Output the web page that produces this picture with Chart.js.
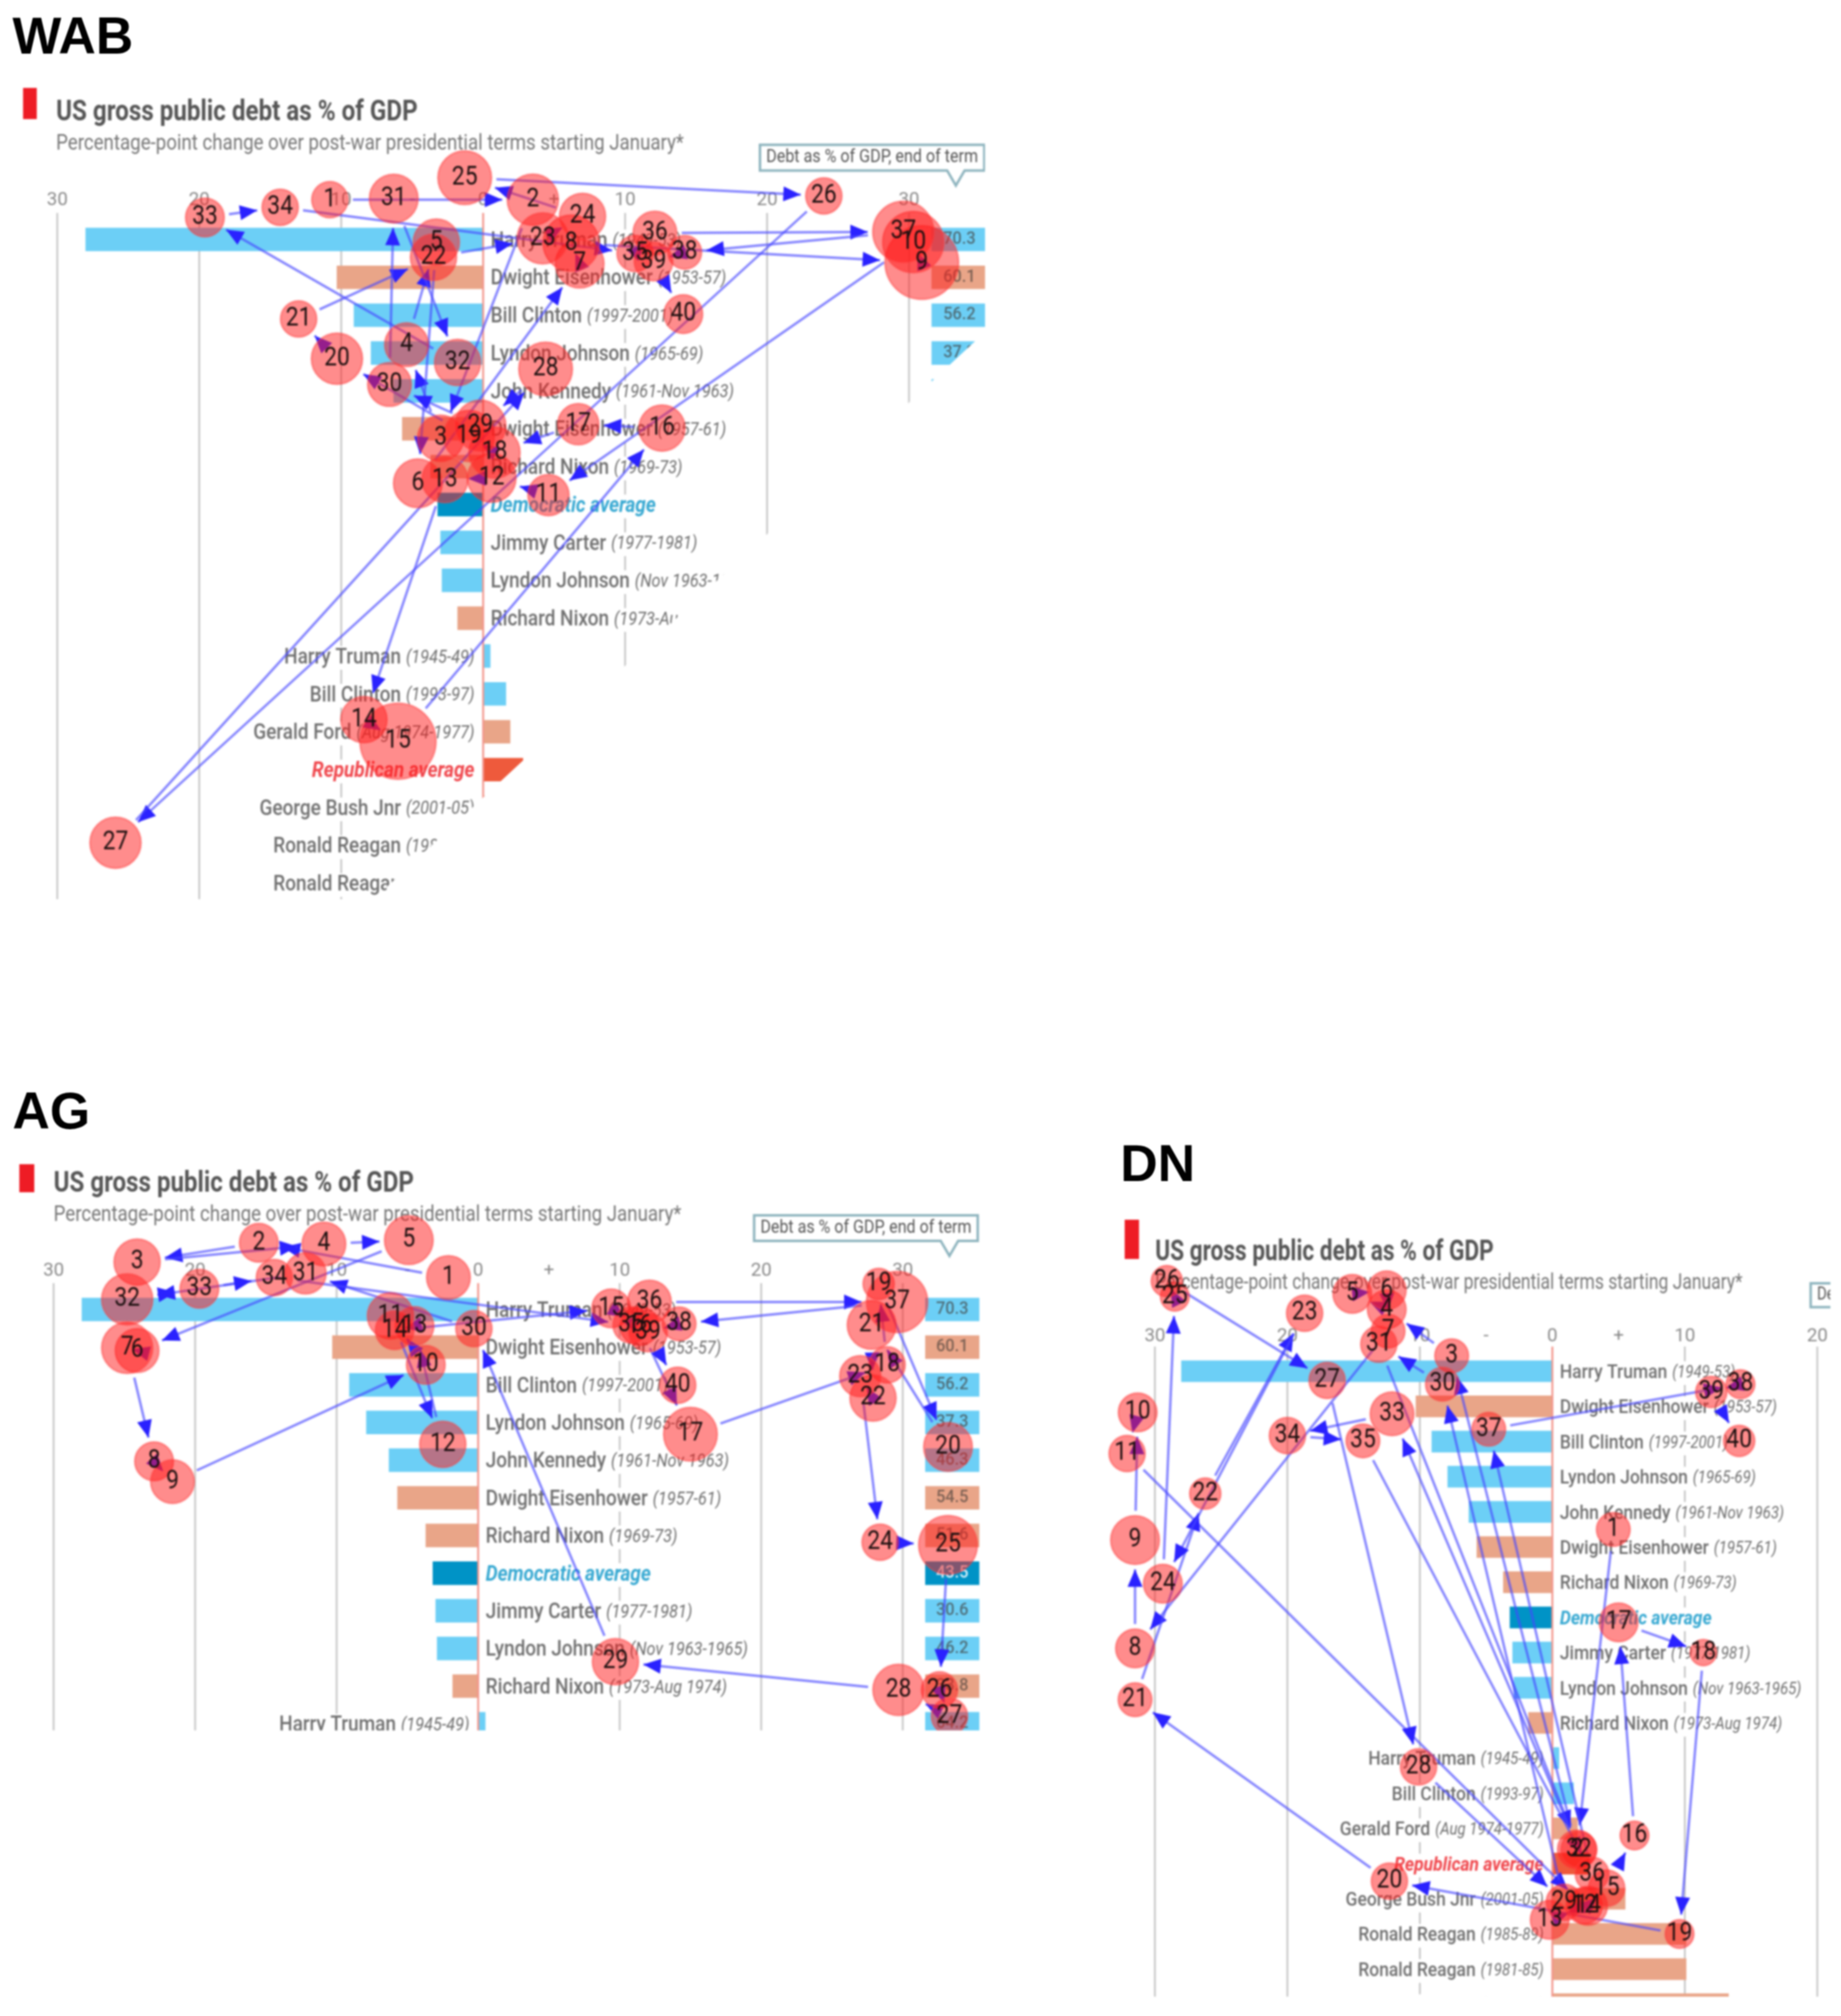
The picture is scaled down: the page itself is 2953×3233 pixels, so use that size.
<!DOCTYPE html>
<html>
<head>
<meta charset="utf-8">
<script src="https://cdn.jsdelivr.net/npm/chart.js@4"></script>
<style>
    html, body { margin: 0; background: #fff; }
    #page { position: relative; width: 2953px; height: 3233px; overflow: hidden; }
    #page canvas { position: absolute; filter: blur(1.4px); }
    .panel-name { position: absolute; font: bold 83px/1 "Liberation Sans", sans-serif; color: #000; filter: blur(0.8px); }
</style>
</head>
<body>
<div id="page"></div>
<script>
// rows of the debt chart, top to bottom
const rowNames = ['Harry Truman', 'Dwight Eisenhower', 'Bill Clinton', 'Lyndon Johnson', 'John Kennedy', 'Dwight Eisenhower', 'Richard Nixon', 'Democratic average', 'Jimmy Carter', 'Lyndon Johnson', 'Richard Nixon', 'Harry Truman', 'Bill Clinton', 'Gerald Ford', 'Republican average', 'George Bush Jnr', 'Ronald Reagan', 'Ronald Reagan', 'George Bush Snr'];
const rowYears = ['(1949-53)', '(1953-57)', '(1997-2001)', '(1965-69)', '(1961-Nov 1963)', '(1957-61)', '(1969-73)', '', '(1977-1981)', '(Nov 1963-1965)', '(1973-Aug 1974)', '(1945-49)', '(1993-97)', '(Aug 1974-1977)', '', '(2001-05)', '(1985-89)', '(1981-85)', '(1989-93)'];
const rowParty = ['D', 'R', 'D', 'D', 'D', 'R', 'R', 'DA', 'D', 'D', 'R', 'D', 'D', 'R', 'RA', 'R', 'R', 'R', 'R'];
const changeValues = [-28.0, -10.3, -9.1, -7.9, -6.3, -5.7, -3.7, -3.2, -3.0, -2.9, -1.8, 0.5, 1.6, 1.9, 2.8, 5.5, 10.1, 10.1, 13.3];
const debtValues = [70.3, 60.1, 56.2, 37.3, 46.3, 54.5, 51.6, 43.5, 30.6, 46.2, 33.8, 64.2, 49.3, 35.8, 50.4, 63.5, 53.1, 50.6, 65.7];

// scanpaths: fixation x in percentage points, y in row units, radius in px
const wabX = [-10.8, 3.5, -3.0, -5.4, -3.3, -4.6, 6.8, 6.2, 30.9, 30.3, 4.6, 0.6, -2.7, -8.4, -6.0, 12.6, 6.7, 0.8, -1.0, -10.3, -13.0, -3.5, 4.2, 7.0, -1.3, 24.0, -25.9, 4.4, -0.2, -6.6, -6.3, -1.8, -19.6, -14.3, 10.7, 12.1, 29.6, 14.2, 12.0, 14.1];
const wabY = [-1.05, -1.05, 5.25, 2.78, 0.07, 6.44, 0.64, 0.1, 0.61, 0.07, 6.75, 6.3, 6.34, 12.68, 13.25, 4.98, 4.88, 5.63, 5.19, 3.15, 2.1, 0.47, -0.03, -0.61, -1.63, -1.15, 15.93, 3.42, 4.92, 3.83, -1.08, 3.25, -0.58, -0.85, 0.37, -0.17, -0.2, 0.34, 0.58, 1.97];
const wabR = [29, 41, 37, 35, 37, 39, 39, 45, 59, 49, 33, 39, 37, 37, 61, 37, 33, 41, 41, 41, 29, 37, 41, 37, 43, 29, 41, 43, 41, 35, 39, 37, 31, 29, 29, 35, 49, 27, 31, 31];

const agX = [-2.1, -15.5, -24.1, -10.9, -4.9, -24.1, -24.8, -22.9, -21.6, -3.7, -6.2, -2.5, -4.5, -5.9, 9.4, 11.4, 15.0, 28.9, 28.3, 33.2, 27.8, 27.9, 27.0, 28.4, 33.2, 32.6, 33.3, 29.7, 9.7, -0.3, -12.2, -24.8, -19.7, -14.4, 10.8, 12.1, 29.6, 14.2, 12.0, 14.1];
const agY = [-0.85, -1.77, -1.26, -1.74, -1.84, 1.09, 1.02, 4.03, 4.57, 1.47, 0.17, 3.58, 0.44, 0.55, -0.03, 0.44, 3.31, 1.47, -0.68, 3.65, 0.41, 2.35, 1.77, 6.18, 6.25, 10.1, 10.8, 10.1, 9.35, 0.51, -0.96, -0.27, -0.55, -0.85, 0.41, -0.2, -0.2, 0.38, 0.61, 2.01];
const agR = [35, 31, 37, 35, 39, 35, 41, 31, 35, 31, 37, 37, 31, 31, 31, 31, 43, 29, 25, 39, 39, 37, 33, 29, 47, 29, 29, 41, 37, 29, 33, 41, 31, 29, 29, 35, 49, 27, 31, 29];

const dnX = [4.6, 1.85, -7.6, -12.5, -15.1, -12.5, -12.4, -31.5, -31.5, -31.3, -32.1, 2.4, -0.2, 2.7, 4.1, 6.2, 5.0, 11.4, 9.6, -12.3, -31.5, -26.2, -18.7, -29.4, -28.5, -29.1, -17.0, -10.1, 0.9, -8.3, -13.1, 2.0, -12.1, -20.0, -14.3, 3.0, -4.8, 14.2, 12.0, 14.1];
const dnY = [4.5, 13.6, -0.44, -1.76, -2.2, -2.3, -1.14, 7.88, 4.8, 1.17, 2.34, 15.2, 15.6, 15.2, 14.7, 13.2, 7.14, 8.0, 16.0, 14.5, 9.34, 3.48, -1.65, 6.04, -2.12, -2.56, 0.26, 11.25, 15.1, 0.37, -0.77, 13.6, 1.21, 1.83, 1.98, 14.3, 1.65, 0.37, 0.59, 1.98];
const dnR = [27, 31, 27, 31, 31, 31, 27, 31, 39, 31, 29, 29, 31, 31, 29, 23, 31, 21, 23, 29, 27, 25, 29, 31, 23, 25, 29, 29, 29, 27, 29, 29, 35, 29, 27, 27, 27, 23, 25, 25];

const partyColors = { D: '#6ccff6', R: '#e9a588', DA: '#0093c6', RA: '#ee5a3c' };
const labelColors = { D: '#6f6f6f', R: '#6f6f6f', DA: '#38a9d2', RA: '#f0474d' };
const fontFamily = 'Roboto, sans-serif';
const squeeze = 0.87;

const panels = [
    {
        name: 'WAB', nameLeft: 20, nameTop: 16,
        left: 0, top: 120, width: 1580, height: 1322,
        zero: 775, unit: 22.77, row0: 264, rowStep: 60.73, barSize: 37, labelScale: 1,
        fixX: wabX, fixY: wabY, fixR: wabR, debtBox: [31.6, 35.5],
        marker: [37, 21, 22, 50], titleAt: [90, 73, 580], subAt: [90, 120, 1007],
        mask: [[34.9, 2.6], [-6.8, 17.1]]
    },
    {
        name: 'AG', nameLeft: 20, nameTop: 1740,
        left: 0, top: 1840, width: 1571, height: 935,
        zero: 767, unit: 22.7, row0: 260, rowStep: 60.4, barSize: 37, labelScale: 1,
        fixX: agX, fixY: agY, fixR: agR, debtBox: [31.6, 35.4],
        marker: [31, 27, 24, 45], titleAt: [86, 71, 578], subAt: [86, 118, 1007]
    },
    {
        name: 'DN', nameLeft: 1797, nameTop: 1824,
        left: 1760, top: 1930, width: 1176, height: 1272,
        zero: 730, unit: 21.25, row0: 269, rowStep: 56.4, barSize: 34, labelScale: 0.92,
        fixX: dnX, fixY: dnY, fixR: dnR, debtBox: [31.6, 35.4],
        marker: [44, 26, 23, 63], titleAt: [93, 91, 543], subAt: [93, 137, 942]
    }
];

// gridlines start under the tick labels, so the scale's own grid is not used
const gridLines = {
    id: 'gridLines',
    beforeDatasetsDraw(chart) {
        const { ctx, scales: { x, y } } = chart;
        const top = y.getPixelForValue(-0.7);
        ctx.save();
        ctx.strokeStyle = '#c9c9c9';
        ctx.lineWidth = 3;
        [-30, -20, -10, 10, 20, 30].forEach(value => {
            const px = x.getPixelForValue(value);
            ctx.beginPath();
            ctx.moveTo(px, top);
            ctx.lineTo(px, chart.height);
            ctx.stroke();
        });
        ctx.restore();
    }
};

function drawHeader(chart, panel) {
    const { ctx, scales: { x, y } } = chart;
    ctx.save();
    ctx.fillStyle = '#ee1c25';
    ctx.fillRect(...panel.marker);
    ctx.fillStyle = '#555';
    ctx.textAlign = 'left';
    ctx.textBaseline = 'alphabetic';
    ctx.font = 'bold 46px ' + fontFamily;
    ctx.fillText('US gross public debt as % of GDP', ...panel.titleAt);
    ctx.fillStyle = '#777';
    ctx.font = '35px ' + fontFamily;
    ctx.fillText('Percentage-point change over post-war presidential terms starting January*', ...panel.subAt);

    // callout over the debt column
    const boxLeft = x.getPixelForValue(19.5), boxRight = x.getPixelForValue(35.3);
    const boxTop = y.getPixelForValue(-2.5), boxBottom = y.getPixelForValue(-1.82);
    const tip = x.getPixelForValue(33.3);
    ctx.strokeStyle = '#8fb5bf';
    ctx.lineWidth = 4;
    ctx.fillStyle = '#fff';
    ctx.beginPath();
    ctx.moveTo(boxLeft, boxTop);
    ctx.lineTo(boxRight, boxTop);
    ctx.lineTo(boxRight, boxBottom);
    ctx.lineTo(tip + 14, boxBottom);
    ctx.lineTo(tip, boxBottom + 24);
    ctx.lineTo(tip - 14, boxBottom);
    ctx.lineTo(boxLeft, boxBottom);
    ctx.closePath();
    ctx.fill();
    ctx.stroke();
    ctx.fillStyle = '#555';
    ctx.font = '29px ' + fontFamily;
    ctx.textBaseline = 'middle';
    ctx.fillText('Debt as % of GDP, end of term', boxLeft + 10, (boxTop + boxBottom) / 2, boxRight - boxLeft - 20);
    ctx.restore();
}

function drawRowLabels(chart, panel) {
    const { ctx, scales: { x, y } } = chart;
    ctx.save();
    ctx.textBaseline = 'middle';
    ctx.textAlign = 'left';
    rowNames.forEach((name, i) => {
        const rowY = y.getPixelForValue(i) + 3;
        const isAverage = rowParty[i].length > 1;
        const nameFont = (isAverage ? 'italic bold ' : '500 ') + (35 * panel.labelScale) + 'px ' + fontFamily;
        const yearFont = 'italic ' + (30 * panel.labelScale) + 'px ' + fontFamily;
        ctx.font = nameFont;
        const nameWidth = ctx.measureText(name).width * squeeze;
        ctx.font = yearFont;
        const yearWidth = rowYears[i] ? ctx.measureText(rowYears[i]).width * squeeze : 0;
        const gap = rowYears[i] ? 8 : 0;
        const total = nameWidth + gap + yearWidth;
        const start = changeValues[i] < 0 ? x.getPixelForValue(0) + 12 : x.getPixelForValue(0) - 14 - total;
        ctx.fillStyle = '#fff';
        ctx.fillRect(start - 2, rowY - 19, total + 4, 38);
        ctx.fillStyle = labelColors[rowParty[i]];
        ctx.font = nameFont;
        ctx.fillText(name, start, rowY, nameWidth);
        if (rowYears[i]) {
            ctx.font = yearFont;
            ctx.fillText(rowYears[i], start + nameWidth + gap, rowY, yearWidth);
        }
    });
    ctx.restore();
}

function drawZeroLine(chart) {
    const { ctx, scales: { x, y } } = chart;
    const px = x.getPixelForValue(0);
    ctx.save();
    ctx.strokeStyle = '#f2948a';
    ctx.lineWidth = 3;
    ctx.beginPath();
    ctx.moveTo(px, y.getPixelForValue(-0.7));
    ctx.lineTo(px, chart.height);
    ctx.stroke();
    ctx.restore();
}

function drawDebtText(chart, panel) {
    const { ctx, scales: { x, y } } = chart;
    const middle = x.getPixelForValue((panel.debtBox[0] + panel.debtBox[1]) / 2);
    ctx.save();
    ctx.textAlign = 'center';
    ctx.textBaseline = 'middle';
    ctx.font = '500 28px ' + fontFamily;
    debtValues.forEach((value, i) => {
        ctx.fillStyle = rowParty[i] === 'DA' ? '#d8f1fb' : '#4f6f7a';
        if (rowParty[i] === 'R') ctx.fillStyle = '#7d6154';
        ctx.fillText(value.toFixed(1), middle, y.getPixelForValue(i), 52);
    });
    ctx.restore();
}

function drawMask(chart, panel) {
    if (!panel.mask) return;
    const { ctx, scales: { x, y } } = chart;
    const [from, to] = panel.mask;
    ctx.save();
    ctx.fillStyle = '#fff';
    ctx.beginPath();
    ctx.moveTo(x.getPixelForValue(from[0]), y.getPixelForValue(from[1]));
    ctx.lineTo(x.getPixelForValue(to[0]), y.getPixelForValue(to[1]));
    ctx.lineTo(x.getPixelForValue(to[0]), chart.height);
    ctx.lineTo(chart.width, chart.height);
    ctx.lineTo(chart.width, y.getPixelForValue(from[1]));
    ctx.closePath();
    ctx.fill();
    ctx.restore();
}

function drawArrows(chart, fixations) {
    const ctx = chart.ctx;
    const bubbleIndex = chart.data.datasets.findIndex(d => d.type === 'bubble');
    const points = chart.getDatasetMeta(bubbleIndex).data;
    ctx.save();
    for (let i = 0; i < points.length - 1; i++) {
        const a = points[i], b = points[i + 1];
        const dx = b.x - a.x, dy = b.y - a.y;
        const dist = Math.hypot(dx, dy) || 1;
        const ux = dx / dist, uy = dy / dist;
        const r1 = fixations[i].r + 8, r2 = fixations[i + 1].r + 8;
        let endX = b.x - ux * r2, endY = b.y - uy * r2;
        if (dist > r1 + r2) {
            ctx.strokeStyle = 'rgba(70, 70, 255, 0.65)';
            ctx.lineWidth = 4;
            ctx.beginPath();
            ctx.moveTo(a.x + ux * r1, a.y + uy * r1);
            ctx.lineTo(endX, endY);
            ctx.stroke();
        } else {
            endX = (a.x + b.x) / 2;
            endY = (a.y + b.y) / 2;
        }
        ctx.fillStyle = '#2a22ff';
        ctx.beginPath();
        ctx.moveTo(endX, endY);
        ctx.lineTo(endX - ux * 28 - uy * 12, endY - uy * 28 + ux * 12);
        ctx.lineTo(endX - ux * 28 + uy * 12, endY - uy * 28 - ux * 12);
        ctx.closePath();
        ctx.fill();
    }
    ctx.restore();
}

function drawFixationNumbers(chart) {
    const ctx = chart.ctx;
    const bubbleIndex = chart.data.datasets.findIndex(d => d.type === 'bubble');
    ctx.save();
    ctx.fillStyle = '#1c1010';
    ctx.font = '42px ' + fontFamily;
    ctx.textAlign = 'center';
    ctx.textBaseline = 'middle';
    chart.getDatasetMeta(bubbleIndex).data.forEach((point, i) => {
        const label = String(i + 1);
        ctx.fillText(label, point.x, point.y, ctx.measureText(label).width * squeeze);
    });
    ctx.restore();
}

function renderPanel(page, panel) {
    const name = document.createElement('div');
    name.className = 'panel-name';
    name.style.left = panel.nameLeft + 'px';
    name.style.top = panel.nameTop + 'px';
    name.textContent = panel.name;
    page.appendChild(name);

    const canvas = document.createElement('canvas');
    canvas.width = panel.width;
    canvas.height = panel.height;
    canvas.style.left = panel.left + 'px';
    canvas.style.top = panel.top + 'px';
    page.appendChild(canvas);

    const fixations = panel.fixX.map((x, i) => ({ x: x, y: panel.fixY[i], r: panel.fixR[i] }));
    const overlays = {
        id: 'overlays',
        afterDatasetDraw(chart, args) {
            // bars are drawn first, the bubbles last
            if (chart.data.datasets[args.index].label !== 'debt') return;
            drawDebtText(chart, panel);
            drawRowLabels(chart, panel);
            drawZeroLine(chart);
            drawMask(chart, panel);
            drawHeader(chart, panel);
            drawArrows(chart, fixations);
        },
        afterDatasetsDraw(chart) {
            drawFixationNumbers(chart);
        }
    };

    new Chart(canvas.getContext('2d'), {
        type: 'bar',
        data: {
            datasets: [
                {
                    type: 'bubble', label: 'fixations', indexAxis: 'x', order: 0, clip: false,
                    data: fixations,
                    backgroundColor: 'rgba(255, 25, 25, 0.5)',
                    borderColor: 'rgba(255, 60, 60, 0.45)',
                    borderWidth: 3
                },
                {
                    type: 'bar', label: 'change', indexAxis: 'y', order: 2, grouped: false,
                    data: changeValues.map((v, i) => ({ x: v, y: i })),
                    backgroundColor: rowParty.map(p => partyColors[p]),
                    barThickness: panel.barSize
                },
                {
                    type: 'bar', label: 'debt', indexAxis: 'y', order: 1, grouped: false,
                    data: debtValues.map((v, i) => ({ x: panel.debtBox, y: i })),
                    backgroundColor: rowParty.map(p => partyColors[p]),
                    barThickness: panel.barSize
                }
            ]
        },
        options: {
            responsive: false,
            animation: false,
            devicePixelRatio: 1,
            // bubbles may reach the canvas edge, the plot must fill it all the same
            layout: { padding: 0, autoPadding: false },
            plugins: { legend: { display: false }, tooltip: { enabled: false } },
            events: [],
            scales: {
                x: {
                    type: 'linear',
                    position: { y: -1.45 },
                    offset: false,
                    min: -panel.zero / panel.unit,
                    max: (panel.width - panel.zero) / panel.unit,
                    grid: { display: false, offset: false },
                    border: { display: false },
                    afterFit(scale) {
                        // the axis sits inside the plot, it must not inset the chart area
                        scale.paddingLeft = scale.paddingRight = scale.paddingTop = scale.paddingBottom = 0;
                    },
                    ticks: {
                        stepSize: 5,
                        includeBounds: false,
                        autoSkip: false,
                        maxRotation: 0,
                        padding: 0,
                        color: '#8a8a8a',
                        font: { family: fontFamily, size: 30 },
                        callback(value) {
                            if (value === 5) return '+';
                            if (value === -5) return '-';
                            if (Math.abs(value) > 30 || value % 10 !== 0) return '';
                            return String(Math.abs(value));
                        }
                    }
                },
                y: {
                    type: 'linear',
                    display: false,
                    reverse: true,
                    offset: false,
                    grid: { display: false, offset: false },
                    min: -panel.row0 / panel.rowStep,
                    max: (panel.height - panel.row0) / panel.rowStep
                }
            }
        },
        plugins: [gridLines, overlays]
    });
}

const page = document.getElementById('page');
panels.forEach(panel => renderPanel(page, panel));
</script>
</body>
</html>
